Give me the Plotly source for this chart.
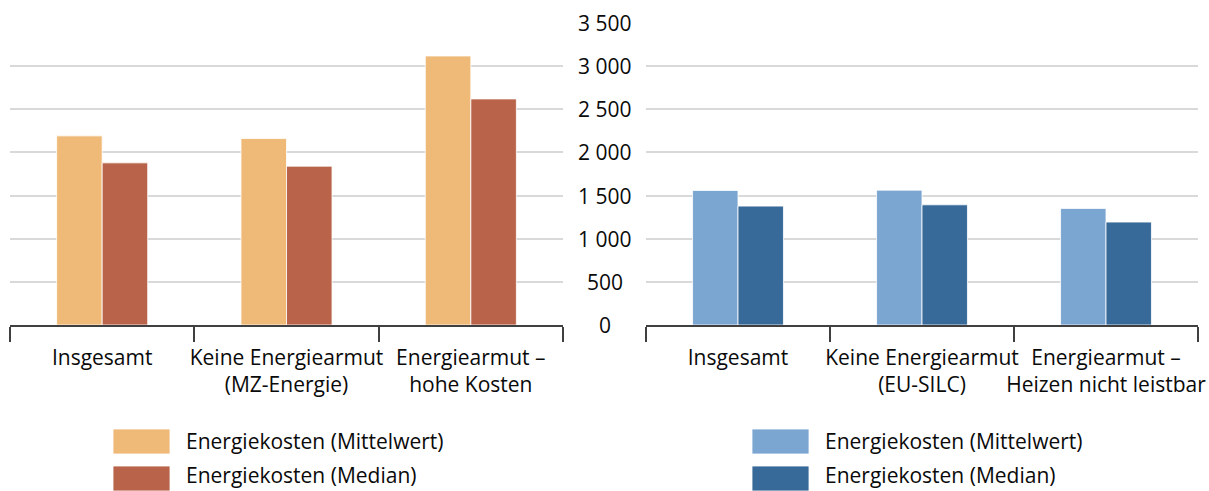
import plotly.graph_objects as go

# ---- data ----
categories_left = ["Insgesamt", "Keine Energiearmut<br>(MZ-Energie)", "Energiearmut –<br>hohe Kosten"]
categories_right = ["Insgesamt", "Keine Energiearmut<br>(EU-SILC)", "Energiearmut –<br>Heizen nicht leistbar"]
mean_left = [2192, 2161, 3118]
median_left = [1879, 1841, 2620]
mean_right = [1559, 1563, 1351]
median_right = [1378, 1393, 1193]
y_ticks = [0, 500, 1000, 1500, 2000, 2500, 3000, 3500]
series_names = ["Energiekosten (Mittelwert)", "Energiekosten (Median)"]
colors_left = ["#EFBA77", "#B9634A"]
colors_right = ["#7BA6D2", "#376A98"]

W, H = 1209, 491
FONT = "Open Sans"
FS = 21
TXT = "#0a0a0a"
AXC = "#404040"

def px_x(p):
    return p / W

def px_y(p):
    return 1 - p / H

fig = go.Figure()
edge = dict(color="rgba(255,255,255,0.8)", width=1)
fig.add_trace(go.Bar(x=categories_left, y=mean_left, name=series_names[0],
                     marker=dict(color=colors_left[0], line=edge), xaxis="x", yaxis="y", showlegend=False))
fig.add_trace(go.Bar(x=categories_left, y=median_left, name=series_names[1],
                     marker=dict(color=colors_left[1], line=edge), xaxis="x", yaxis="y", showlegend=False))
fig.add_trace(go.Bar(x=categories_right, y=mean_right, name=series_names[0],
                     marker=dict(color=colors_right[0], line=edge), xaxis="x2", yaxis="y2", showlegend=False))
fig.add_trace(go.Bar(x=categories_right, y=median_right, name=series_names[1],
                     marker=dict(color=colors_right[1], line=edge), xaxis="x2", yaxis="y2", showlegend=False))

ydom = [px_y(325), px_y(23)]
xcommon = dict(type="category", range=[-0.5, 2.5], showgrid=False, zeroline=False,
               showline=True, linecolor=AXC, linewidth=1.5, automargin=False, tickangle=0,
               ticks="outside", tickson="boundaries", ticklen=15, tickcolor=AXC, tickwidth=1.5,
               ticklabelstandoff=13,
               tickfont=dict(family=FONT, size=FS, color=TXT))
ycommon = dict(range=[0, 3500], tickvals=y_ticks, showticklabels=False, showgrid=True, automargin=False,
               gridcolor="#d9d9d9", gridwidth=2, zeroline=False, showline=False, domain=ydom)

fig.update_layout(
    width=W, height=H, margin=dict(l=0, r=0, t=0, b=0, autoexpand=False),
    paper_bgcolor="white", plot_bgcolor="white",
    barmode="group", bargap=0.506, bargroupgap=0.0,
    separators=", ",
    font=dict(family=FONT, size=FS, color=TXT),
    xaxis=dict(domain=[px_x(10), px_x(563)], anchor="y", **xcommon),
    xaxis2=dict(domain=[px_x(646), px_x(1198)], anchor="y2", **xcommon),
    yaxis=dict(anchor="x", **ycommon),
    yaxis2=dict(anchor="x2", **ycommon),
)

# shared y tick labels, centred between the two panels
for v in y_ticks:
    fig.add_annotation(x=px_x(605), xref="paper", y=v, yref="y2", text=f"{v:,}".replace(",", " "),
                       showarrow=False, xanchor="center", yanchor="middle",
                       font=dict(family=FONT, size=FS, color=TXT))

# legends below each panel
legend_rows = [(429, 454, 441), (466, 491, 475)]
for x_sw, colors in ((113, colors_left), (752, colors_right)):
    for (top, bot, mid), name, col in zip(legend_rows, series_names, colors):
        fig.add_shape(type="rect", xref="paper", yref="paper",
                      x0=px_x(x_sw), x1=px_x(x_sw + 57), y0=px_y(bot), y1=px_y(top),
                      fillcolor=col, line=dict(color="rgba(255,255,255,0.8)", width=1))
        fig.add_annotation(x=px_x(x_sw + 72), xref="paper", y=px_y(mid), yref="paper",
                           text=name, showarrow=False, xanchor="left", yanchor="middle", borderpad=0,
                           font=dict(family=FONT, size=FS, color=TXT))

fig.write_html("out.html")
